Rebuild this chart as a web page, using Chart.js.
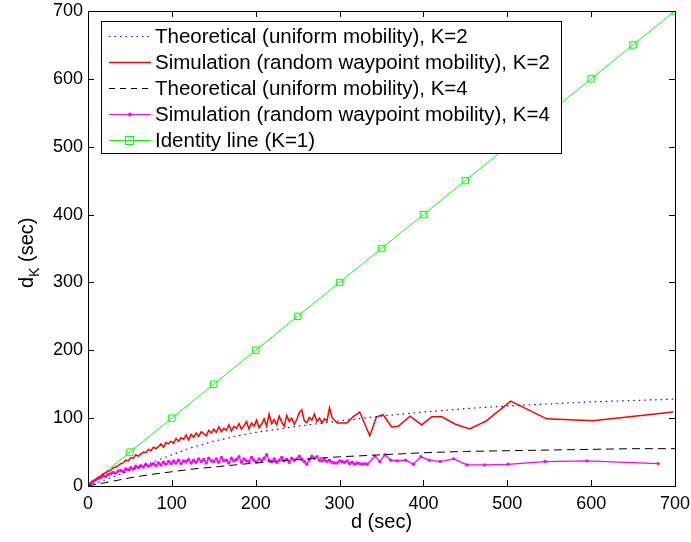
<!DOCTYPE html>
<html>
<head>
<meta charset="utf-8">
<script src="https://cdn.jsdelivr.net/npm/chart.js@4/dist/chart.umd.min.js"></script>
<style>
  body { margin: 0; background: #fff; }
  canvas { display: block; }
</style>
</head>
<body>
<canvas id="chart" width="691" height="542"></canvas>
<script>
// theoretical curves
const theoD = [0, 25, 50, 75, 100, 125, 150, 175, 200, 250, 300, 350, 400, 450, 500, 550, 600, 650, 700];
const theoK2 = [0, 11, 23, 34, 46, 57, 66, 73, 79, 88, 96, 103, 109, 114, 118, 121, 124, 126, 128];
const theoK4 = [0, 6, 12, 17, 21, 25, 28, 31, 34, 39, 43, 46, 49, 51, 52, 53, 54, 55, 55];

// simulation K=2
const simK2D = [0, 3, 6, 9, 12, 15, 18, 21, 24, 27, 30, 33, 36, 39, 42, 45, 48, 51, 54, 57,
  60, 63, 66, 69, 72, 75, 78, 81, 84, 87, 90, 93, 96, 99, 102, 105, 108, 111, 114, 117,
  120, 123, 126, 129, 132, 135, 138, 141, 144, 147, 150, 153, 156, 159, 162, 165, 168, 171, 174, 177,
  180, 183, 186, 189, 192, 195, 198, 201, 204, 207, 210, 213, 216, 219, 222, 225, 228, 231, 234, 237,
  240, 243, 246, 249, 252, 255, 258, 261, 264, 267, 270, 273, 276, 279, 282, 285, 288, 291,
  297, 309, 316, 324, 336, 344, 352, 362, 370, 384, 398, 410, 422, 438, 455, 475, 504, 547, 602, 698];
const simK2 = [0, 3, 7, 9, 13, 14, 18, 19, 22, 23, 27, 28, 30, 33, 34, 38, 37, 42, 41, 46,
  44, 47, 50, 49, 54, 52, 57, 55, 58, 62, 57, 64, 62, 66, 63, 70, 66, 71, 69, 75,
  68, 76, 72, 78, 73, 80, 77, 74, 82, 78, 84, 79, 87, 80, 85, 82, 90, 81, 88, 85,
  92, 84, 89, 95, 84, 93, 88, 97, 86, 91, 99, 88, 106, 92, 98, 90, 103, 94, 88, 104,
  95, 100, 91, 98, 108, 112, 96, 93, 101, 97, 106, 95, 100, 93, 99, 96, 115, 101,
  93, 93, 102, 109, 74, 102, 105, 87, 88, 103, 90, 102, 102, 91, 84, 96, 125, 99, 96, 109];

// simulation K=4
const simK4D = [0, 3, 6, 9, 12, 15, 18, 21, 24, 27, 30, 33, 36, 39, 42, 45, 48, 51, 54, 57,
  60, 63, 66, 69, 72, 75, 78, 81, 84, 87, 90, 93, 96, 99, 102, 105, 108, 111, 114, 117,
  120, 123, 126, 129, 132, 135, 138, 141, 144, 147, 150, 153, 156, 159, 162, 165, 168, 171, 174, 177,
  180, 183, 186, 189, 192, 195, 198, 201, 204, 207, 210, 213, 216, 219, 222, 225, 228, 231, 234, 237,
  240, 243, 246, 249, 252, 255, 258, 261, 264, 267, 270, 273, 276, 279, 282, 285, 288, 291, 294, 297,
  300, 303, 306, 309, 312, 315, 318, 321, 324, 327, 330, 333,
  342, 348, 354, 361, 369, 379, 388, 397, 407, 420, 436, 452, 473, 501, 545, 595, 680];
const simK4 = [0, 4, 7, 9, 11, 12, 15, 14, 17, 18, 20, 19, 22, 23, 21, 25, 24, 27, 25, 29,
  27, 30, 28, 32, 29, 31, 33, 30, 34, 31, 35, 32, 36, 33, 37, 34, 38, 33, 37, 36,
  39, 34, 38, 35, 40, 36, 39, 34, 41, 37, 36, 40, 35, 42, 37, 38, 34, 41, 37, 39,
  43, 35, 40, 37, 36, 42, 38, 35, 40, 37, 41, 46, 38, 36, 40, 35, 38, 42, 37, 39,
  35, 41, 38, 40, 44, 39, 36, 32, 39, 44, 41, 43, 38, 37, 39, 36, 38, 35, 34, 34,
  37, 36, 35, 37, 33, 35, 32, 34, 33, 32, 33, 32,
  44, 36, 46, 38, 37, 38, 32, 43, 38, 36, 40, 31, 31, 32, 36, 37, 33];

// identity line
const identD = [0, 50, 100, 150, 200, 250, 300, 350, 400, 450, 500, 550, 600, 650, 700];

const xTicks = [0, 100, 200, 300, 400, 500, 600, 700];
const yTicks = [0, 100, 200, 300, 400, 500, 600, 700];

const FONT = '"Liberation Sans", Arial, Helvetica, sans-serif';

const BLUE = '#0000ff', RED = '#ff0000', BLACK = '#000000', MAGENTA = '#ff00ff', GREEN = '#00ff00';

function pts(xs, ys) {
  return xs.map((x, i) => ({ x: x, y: ys[i] }));
}

// legend rows: colour, width, dash, marker
const legendRows = [
  { color: BLUE, width: 1.2, dash: [1.5, 4], marker: null },
  { color: RED, width: 1.4, dash: [], marker: null },
  { color: BLACK, width: 1, dash: [6, 5], marker: null },
  { color: MAGENTA, width: 1.2, dash: [], marker: 'dot' },
  { color: GREEN, width: 1, dash: [], marker: 'square' }
];

// frame, inward ticks and axis titles, MATLAB style
const framePlugin = {
  id: 'frame',
  afterDatasetsDraw(chart) {
    const c = chart.ctx;
    const a = chart.chartArea;
    const sx = chart.scales.x, sy = chart.scales.y;
    c.save();
    c.strokeStyle = '#000';
    c.lineWidth = 1;
    c.strokeRect(Math.round(a.left) + 0.5, Math.round(a.top) + 0.5,
      Math.round(a.right - a.left), Math.round(a.bottom - a.top));
    c.beginPath();
    xTicks.forEach(v => {
      const px = Math.round(sx.getPixelForValue(v)) + 0.5;
      c.moveTo(px, a.bottom); c.lineTo(px, a.bottom - 6);
      c.moveTo(px, a.top); c.lineTo(px, a.top + 6);
    });
    yTicks.forEach(v => {
      const py = Math.round(sy.getPixelForValue(v)) + 0.5;
      c.moveTo(a.left, py); c.lineTo(a.left + 6, py);
      c.moveTo(a.right, py); c.lineTo(a.right - 6, py);
    });
    c.stroke();

    // x title
    c.fillStyle = '#000';
    c.font = '20px ' + FONT;
    c.textAlign = 'center';
    c.textBaseline = 'alphabetic';
    c.fillText('d (sec)', (a.left + a.right) / 2, 528);

    // y title with subscript
    c.translate(33, 288);
    c.rotate(-Math.PI / 2);
    c.textAlign = 'left';
    c.font = '20px ' + FONT;
    c.fillText('d', 0, 0);
    let w = c.measureText('d').width;
    c.font = '14px ' + FONT;
    c.fillText('K', w, 6);
    w += c.measureText('K').width;
    c.font = '20px ' + FONT;
    c.fillText(' (sec)', w, 0);
    c.restore();
  }
};

// legend box drawn inside the axes
const legendPlugin = {
  id: 'boxLegend',
  afterDraw(chart) {
    const c = chart.ctx;
    const ds = chart.data.datasets;
    const left = 101, top = 21, width = 460, height = 132, rowH = 26;
    c.save();
    c.fillStyle = '#fff';
    c.fillRect(left, top, width, height);
    c.strokeStyle = '#000';
    c.lineWidth = 1;
    c.strokeRect(left + 0.5, top + 0.5, width, height);
    c.font = '20.5px ' + FONT;
    c.textBaseline = 'middle';
    ds.forEach((d, i) => {
      const st = legendRows[i];
      const y = Math.round(top + 15 + i * rowH) + 0.5;
      c.strokeStyle = st.color;
      c.lineWidth = st.width;
      c.setLineDash(st.dash);
      c.beginPath();
      c.moveTo(109, y); c.lineTo(151, y);
      c.stroke();
      c.setLineDash([]);
      if (st.marker === 'square') {
        c.lineWidth = 1;
        c.strokeStyle = st.color;
        c.strokeRect(125.5, y - 4, 8, 8);
      } else if (st.marker === 'dot') {
        c.fillStyle = st.color;
        c.beginPath();
        c.arc(130, y, 2, 0, Math.PI * 2);
        c.fill();
      }
      c.fillStyle = '#000';
      c.fillText(d.label, 155, y + 1);
    });
    c.restore();
  }
};

function noPad(s) {
  s.paddingTop = 0; s.paddingBottom = 0; s.paddingLeft = 0; s.paddingRight = 0;
}

new Chart(document.getElementById('chart'), {
  type: 'scatter',
  data: {
    datasets: [
      {
        label: 'Theoretical (uniform mobility), K=2',
        data: pts(theoD, theoK2),
        showLine: true, borderColor: BLUE, borderWidth: 1.2, borderDash: [1.5, 4],
        pointRadius: 0, fill: false
      },
      {
        label: 'Simulation (random waypoint mobility), K=2',
        data: pts(simK2D, simK2),
        showLine: true, borderColor: RED, borderWidth: 1.5,
        pointRadius: 0, fill: false
      },
      {
        label: 'Theoretical (uniform mobility), K=4',
        data: pts(theoD, theoK4),
        showLine: true, borderColor: BLACK, borderWidth: 1, borderDash: [8, 5],
        pointRadius: 0, fill: false
      },
      {
        label: 'Simulation (random waypoint mobility), K=4',
        data: pts(simK4D, simK4),
        showLine: true, borderColor: MAGENTA, borderWidth: 1.3,
        pointRadius: 1.7, pointStyle: 'circle', pointBackgroundColor: MAGENTA, pointBorderColor: MAGENTA,
        pointBorderWidth: 0, fill: false
      },
      {
        label: 'Identity line (K=1)',
        data: pts(identD, identD),
        showLine: true, borderColor: GREEN, borderWidth: 1,
        pointRadius: 4.5, pointStyle: 'rect', pointBackgroundColor: 'rgba(0,0,0,0)', pointBorderColor: GREEN,
        pointBorderWidth: 1, fill: false
      }
    ]
  },
  options: {
    responsive: false,
    animation: false,
    layout: { padding: { top: 11, left: 0, right: 16, bottom: 0 } },
    plugins: { legend: { display: false }, tooltip: { enabled: false } },
    scales: {
      x: {
        type: 'linear', min: 0, max: 700,
        afterBuildTicks: s => { s.ticks = xTicks.map(v => ({ value: v })); },
        ticks: { font: { family: FONT, size: 18 }, color: '#000', padding: 7, maxRotation: 0 },
        grid: { display: false, drawTicks: false },
        border: { display: false },
        afterFit: s => { s.height = 56; noPad(s); }
      },
      y: {
        type: 'linear', min: 0, max: 700,
        afterBuildTicks: s => { s.ticks = yTicks.map(v => ({ value: v })); },
        ticks: { font: { family: FONT, size: 18 }, color: '#000', padding: 5 },
        grid: { display: false, drawTicks: false },
        border: { display: false },
        afterFit: s => { s.width = 88; noPad(s); }
      }
    }
  },
  plugins: [framePlugin, legendPlugin]
});
</script>
</body>
</html>
